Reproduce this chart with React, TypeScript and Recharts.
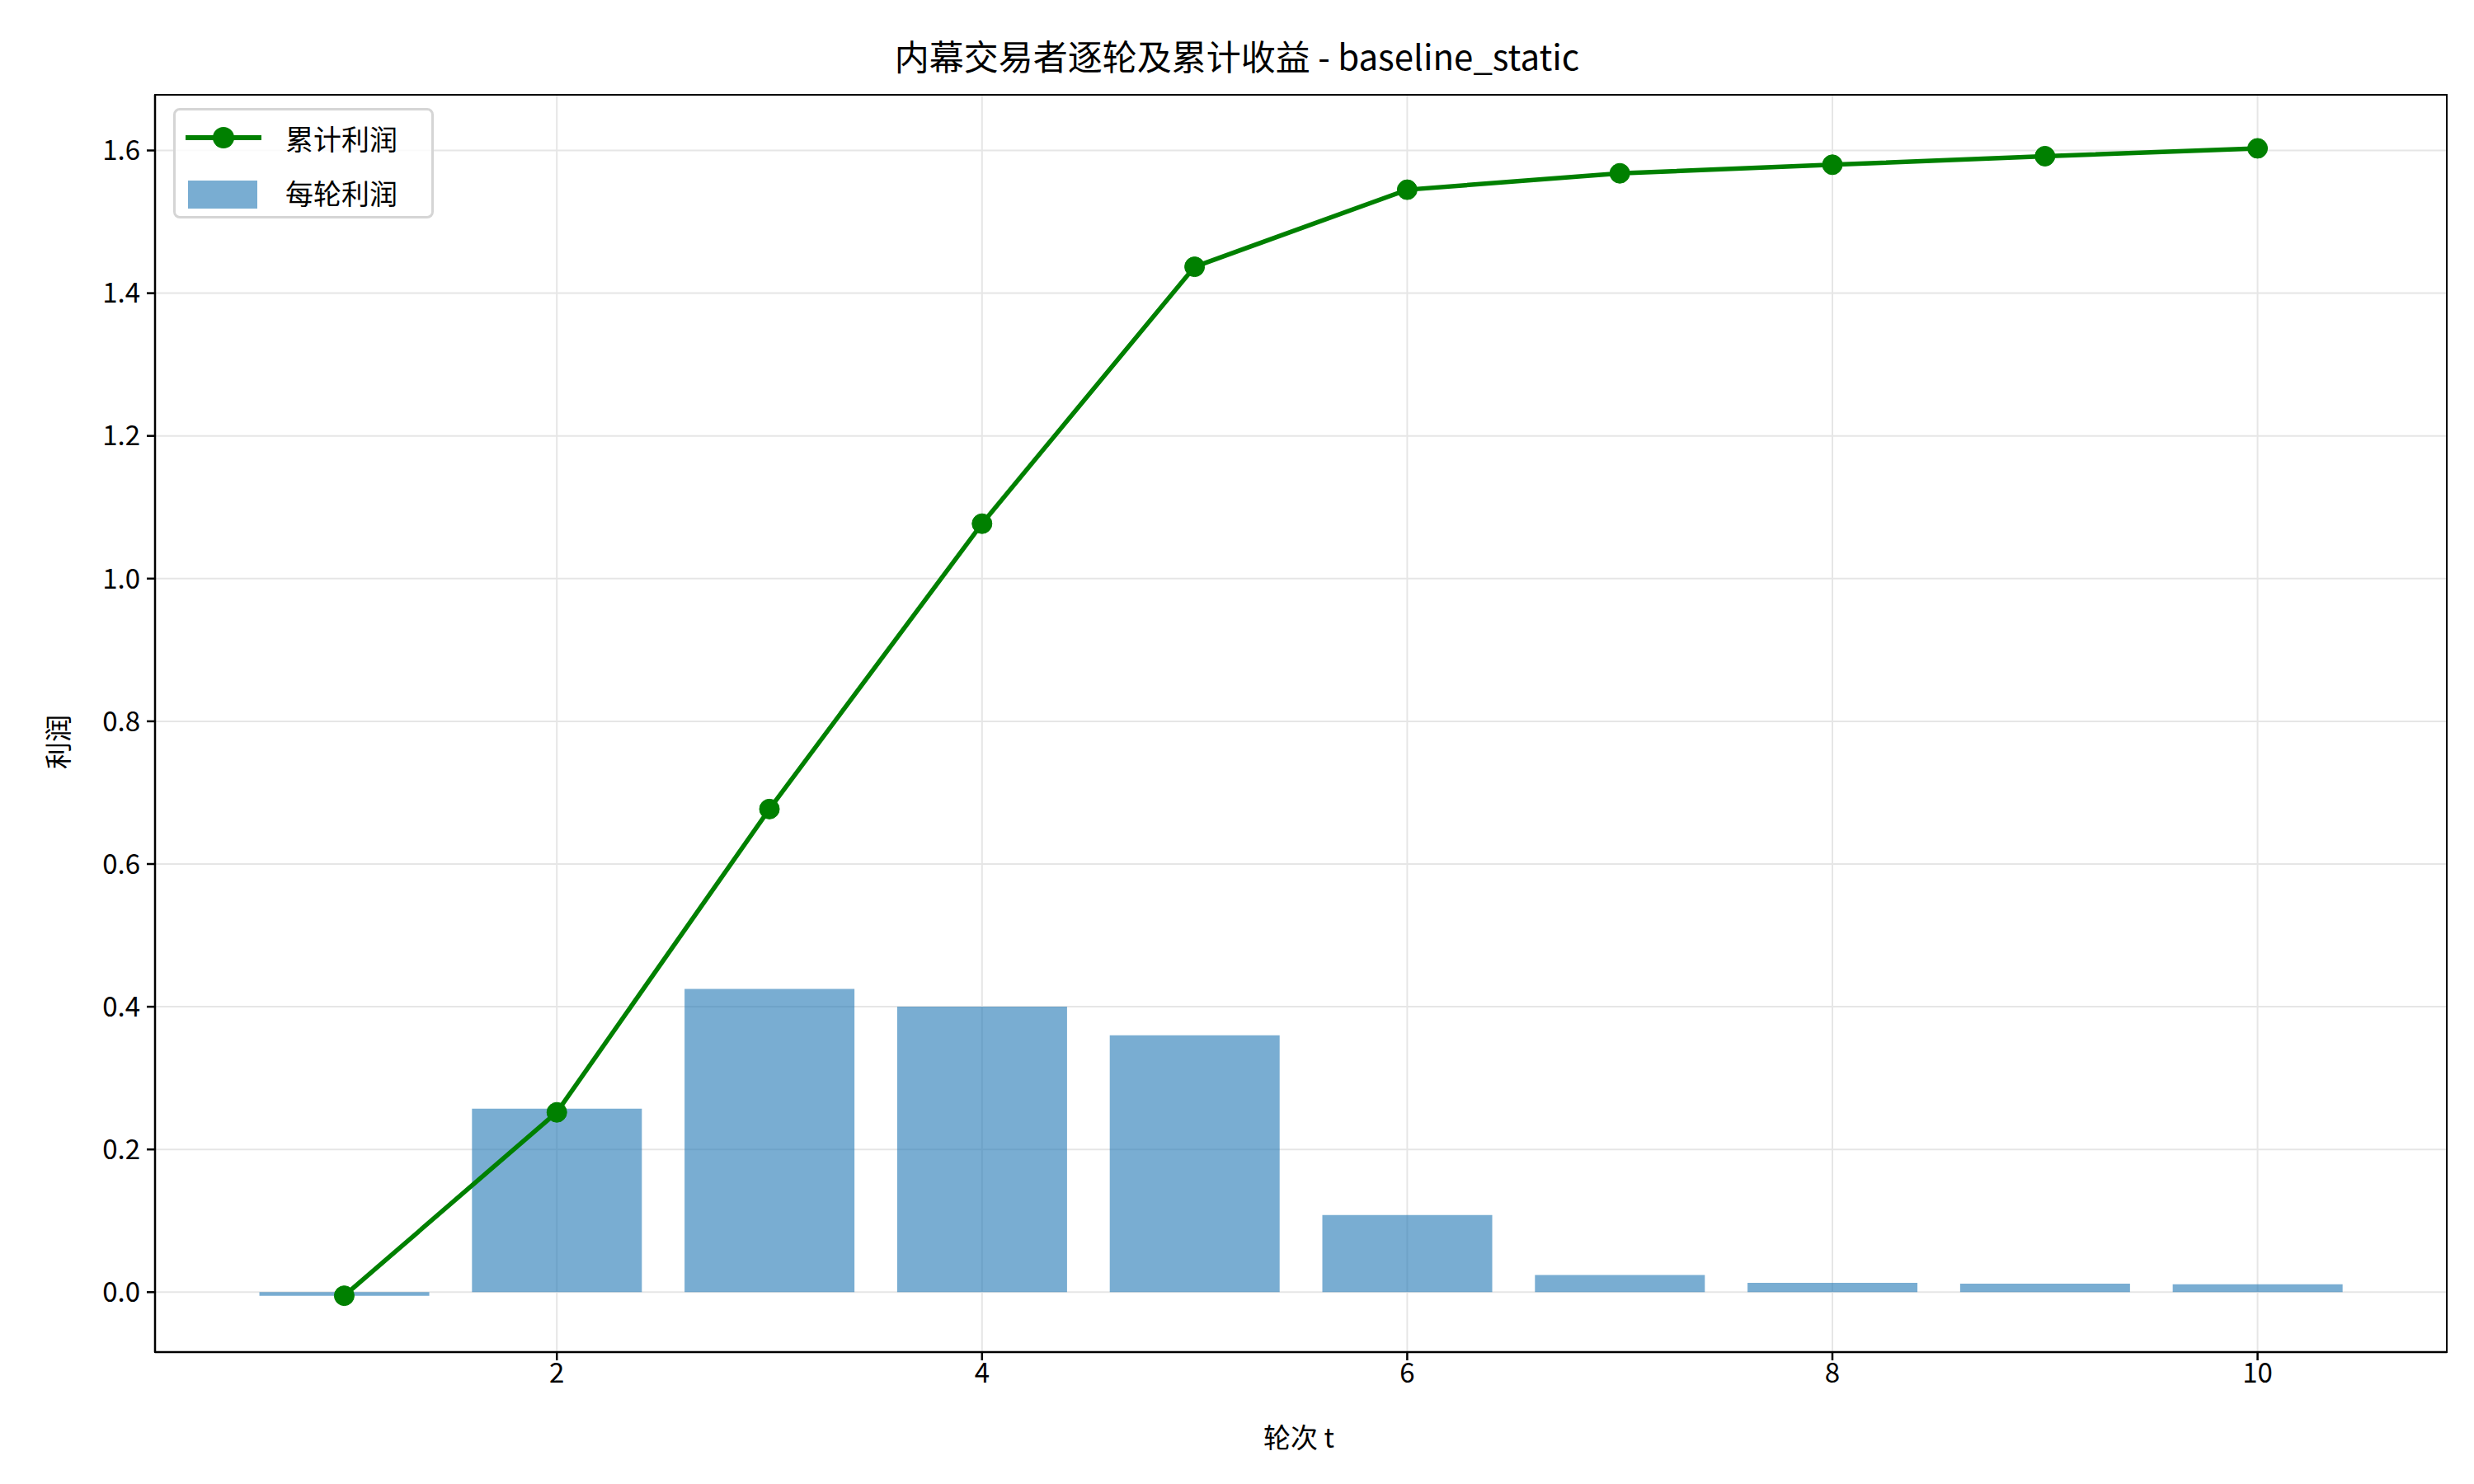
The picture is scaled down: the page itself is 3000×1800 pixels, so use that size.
import React from 'react';
import {
  ComposedChart,
  Bar,
  Line,
  XAxis,
  YAxis,
  CartesianGrid,
} from 'recharts';

const rounds = [1, 2, 3, 4, 5, 6, 7, 8, 9, 10];
const perRound = [-0.005, 0.257, 0.425, 0.4, 0.36, 0.108, 0.024, 0.013, 0.012, 0.011];
const cumulative = [-0.005, 0.252, 0.677, 1.077, 1.437, 1.545, 1.568, 1.58, 1.592, 1.603];
const xTicks = [2, 4, 6, 8, 10];
const yTicks = [0, 0.2, 0.4, 0.6, 0.8, 1.0, 1.2, 1.4, 1.6];

const data = rounds.map((t, i) => ({ t, per: perRound[i], cum: cumulative[i] }));

const FONT = '"Noto Sans CJK SC", "Noto Sans", sans-serif';
const BAR_COLOR = '#1f77b4';

// plot box in page pixels
const PLOT = { left: 188, top: 115, right: 2967, bottom: 1640 };

const App: React.FC = () => {
  return (
    <div style={{ position: 'absolute', left: 0, top: 0, width: 3000, height: 1800, background: '#fff', fontFamily: FONT }}>
      <div style={{ position: 'absolute', top: 36, width: 3000, textAlign: 'center', fontSize: 42 }}>
        内幕交易者逐轮及累计收益 - baseline_static
      </div>
      <ComposedChart
        width={3000}
        height={1800}
        data={data}
        margin={{ top: PLOT.top, right: 3000 - PLOT.right, left: PLOT.left - 110, bottom: 1800 - PLOT.bottom - 60 }}
      >
        <CartesianGrid stroke="#e6e6e6" strokeWidth={2} />
        <XAxis
          dataKey="t"
          type="number"
          domain={[0.11, 10.89]}
          ticks={xTicks}
          height={60}
          stroke="#000"
          strokeWidth={2.5}
          tickSize={10}
          tick={{ fill: '#000', fontSize: 33, fontFamily: FONT }}
          tickMargin={4}
          allowDataOverflow
        />
        <YAxis
          type="number"
          domain={[-0.084, 1.678]}
          ticks={yTicks}
          width={110}
          stroke="#000"
          strokeWidth={2.5}
          tickSize={10}
          tickFormatter={(v: number) => v.toFixed(1)}
          tick={{ fill: '#000', fontSize: 33, fontFamily: FONT }}
          tickMargin={8}
          allowDataOverflow
        />
        <Bar dataKey="per" fill={BAR_COLOR} fillOpacity={0.6} barSize={206} isAnimationActive={false} />
        <Line
          dataKey="cum"
          stroke="#008000"
          strokeWidth={5.5}
          dot={{ r: 12, fill: '#008000', stroke: '#008000', strokeWidth: 1 }}
          isAnimationActive={false}
        />
      </ComposedChart>
      <div
        style={{
          position: 'absolute', left: PLOT.left - 1, top: PLOT.top - 1,
          width: PLOT.right - PLOT.left + 2, height: PLOT.bottom - PLOT.top + 2,
          border: '2.5px solid #000', boxSizing: 'border-box', pointerEvents: 'none',
        }}
      />
      <div style={{ position: 'absolute', left: 36, top: 900, transform: 'translate(0,-50%) rotate(-90deg)', fontSize: 33, transformOrigin: 'center' }}>
        利润
      </div>
      <div style={{ position: 'absolute', top: 1718, width: 3000, paddingLeft: 150, boxSizing: 'border-box', textAlign: 'center', fontSize: 33 }}>
        轮次 t
      </div>
      <div
        style={{
          position: 'absolute', left: 210, top: 131, width: 316, height: 134, boxSizing: 'border-box',
          border: '3px solid #d5d5d5', borderRadius: 8, background: 'rgba(255,255,255,0.8)', fontSize: 34,
        }}
      >
        <div style={{ position: 'absolute', left: 12, top: 22, width: 92, height: 26 }}>
          <div style={{ position: 'absolute', top: 8, width: 92, height: 6, background: '#008000' }} />
          <div style={{ position: 'absolute', left: 33, top: -2, width: 26, height: 26, borderRadius: 13, background: '#008000' }} />
        </div>
        <div style={{ position: 'absolute', left: 15, top: 85, width: 84, height: 34, background: BAR_COLOR, opacity: 0.6 }} />
        <div style={{ position: 'absolute', left: 133, top: 12, lineHeight: '44px' }}>累计利润</div>
        <div style={{ position: 'absolute', left: 133, top: 78, lineHeight: '44px' }}>每轮利润</div>
      </div>
    </div>
  );
};

export default App;
